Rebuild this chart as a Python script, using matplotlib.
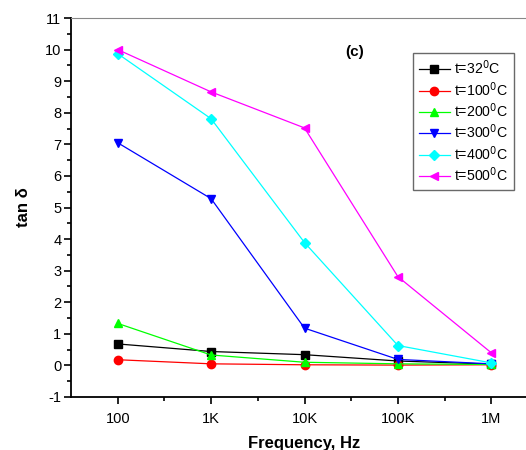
import numpy as np
import matplotlib.pyplot as plt
from matplotlib.ticker import FixedLocator, MultipleLocator

plt.rcParams['font.family'] = ['Liberation Sans', 'DejaVu Sans']
plt.rcParams['axes.unicode_minus'] = False

# Частоты и подписи оси X
freq = [1e2, 1e3, 1e4, 1e5, 1e6]
freq_labels = ['100', '1K', '10K', '100K', '1M']

# tan δ для разных температур
tan_32 = [0.68, 0.44, 0.34, 0.14, 0.04]
tan_100 = [0.18, 0.05, 0.02, 0.01, 0.02]
tan_200 = [1.33, 0.33, 0.10, 0.05, 0.03]
tan_300 = [7.05, 5.28, 1.18, 0.19, 0.05]
tan_400 = [9.87, 7.81, 3.89, 0.63, 0.08]
tan_500 = [10.0, 8.66, 7.52, 2.81, 0.40]

series = [
    (tan_32, 't=32$^0$C', 'black', 's'),
    (tan_100, 't=100$^0$C', 'red', 'o'),
    (tan_200, 't=200$^0$C', '#00ff00', '^'),
    (tan_300, 't=300$^0$C', 'blue', 'v'),
    (tan_400, 't=400$^0$C', 'cyan', 'D'),
    (tan_500, 't=500$^0$C', 'magenta', '<'),
]

fig = plt.figure(figsize=(5.26, 4.5), dpi=100)
# правая граница выходит за край рисунка
ax = fig.add_axes([71 / 526, 53 / 450, 467 / 526, 379 / 450])

for vals, label, color, marker in series:
    ax.plot(freq, vals, color=color, lw=0.9,
            marker=marker, ms=6 if marker != 'D' else 5,
            mfc=color, mec=color, label=label)

ax.set_xscale('log')
ax.set_xlim(10 ** 1.5, 10 ** 6.5)
ax.xaxis.set_major_locator(FixedLocator(freq))
ax.xaxis.set_minor_locator(FixedLocator([10 ** (k + 0.5) for k in range(2, 6)]))
ax.set_xticklabels(freq_labels)

ax.set_ylim(-1, 11)
ax.yaxis.set_major_locator(MultipleLocator(1))
ax.yaxis.set_minor_locator(MultipleLocator(0.5))

ax.tick_params(which='major', direction='out', length=5, width=1.2, labelsize=10.5)
ax.tick_params(which='minor', direction='out', length=3, width=1.2)
ax.tick_params(axis='y', pad=2)
ax.tick_params(axis='x', pad=6)

for side in ['left', 'bottom']:
    ax.spines[side].set_linewidth(1.3)
ax.spines['top'].set_linewidth(0.8)
ax.spines['top'].set_color('#888888')
ax.spines['right'].set_visible(False)

ax.set_xlabel('Frequency, Hz', fontsize=12, fontweight='bold', labelpad=7)
ax.set_ylabel('tan δ', fontsize=12, fontweight='bold', labelpad=10)

ax.text(0.607, 0.91, '(c)', transform=ax.transAxes, fontsize=11,
        fontweight='bold', ha='center', va='center')

leg = ax.legend(loc='upper left', bbox_to_anchor=(0.732, 0.908), fontsize=10.2,
                frameon=True, fancybox=False, edgecolor='#444444',
                handlelength=2.2, handletextpad=0.3, borderpad=0.4,
                labelspacing=0.2, borderaxespad=0)
leg.get_frame().set_linewidth(1.0)

fig.savefig('out.png', dpi=100)
